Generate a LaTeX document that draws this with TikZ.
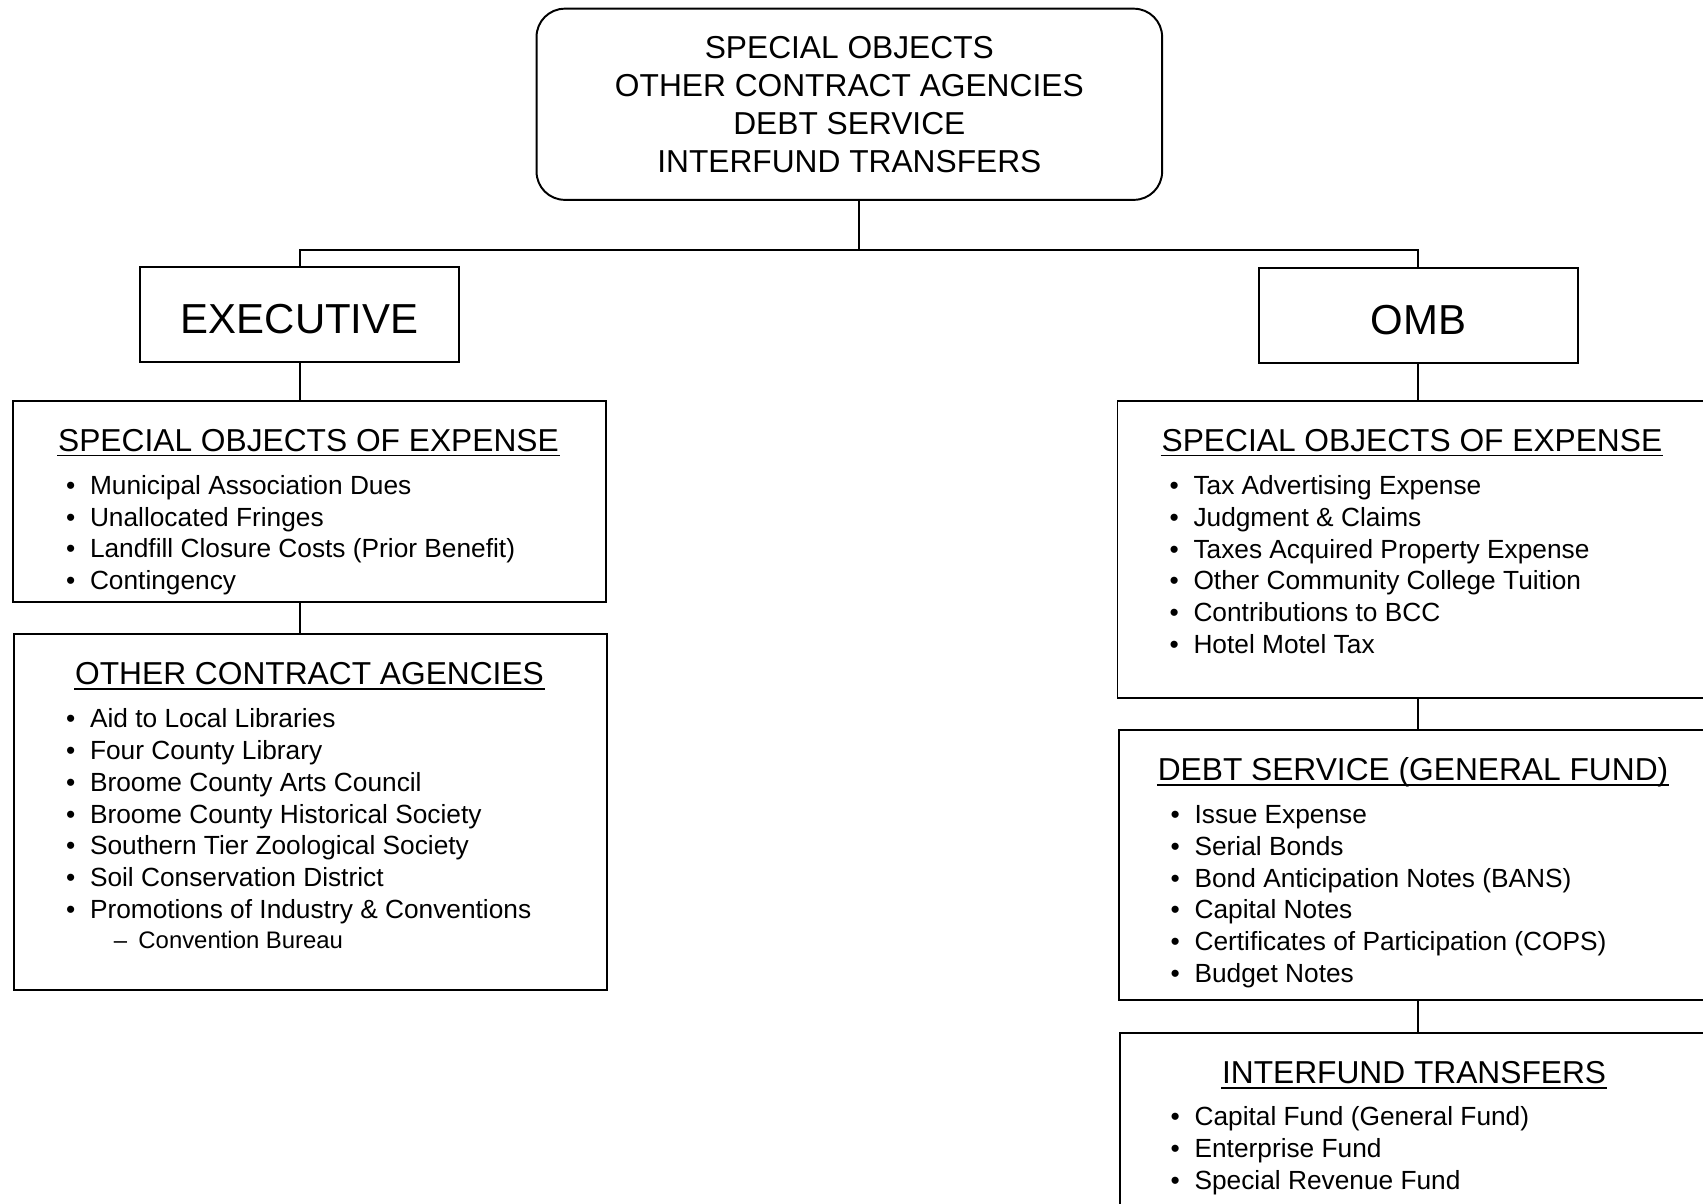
\documentclass[tikz,border=0pt]{standalone}
\usepackage{fontspec}
\setmainfont{Liberation Sans}
\usetikzlibrary{calc,positioning}

\begin{document}
\begin{tikzpicture}[x=1pt,y=-1pt,line width=1.8pt,
  box/.style={draw,rectangle,anchor=north west,minimum width=546pt,inner sep=0pt},
  unit/.style={draw,rectangle,minimum width=294pt,minimum height=87pt,text height=34.6pt,text depth=0pt,
    font=\fontsize{38.6}{44}\selectfont},
  head/.style={font=\fontsize{29.2}{35}\selectfont,inner sep=0pt,anchor=base},
  itm/.style={font=\fontsize{24.2}{29}\selectfont,inner sep=0pt,anchor=base west},
  uline/.style={line width=1.6pt}]
  \path[use as bounding box,clip] (0,0) rectangle (1568,1108);
  % top box
  \node[draw,rounded corners=26pt,minimum width=576pt,minimum height=176pt,align=center,
    font=\fontsize{29.2}{35}\selectfont] (top) at (782,96)
    {SPECIAL OBJECTS\\OTHER CONTRACT AGENCIES\\DEBT SERVICE\\INTERFUND TRANSFERS};
  \node[unit] (exec) at (276,289.5) {EXECUTIVE};
  \node[unit] (omb) at (1306,290.5) {OMB};
  \coordinate (j) at (791,230);
  \draw (j |- top.south) -- (j);
  \draw (exec.north) |- (j) -| (omb.north);
  % boxes
  \node[box,minimum height=185pt] (soeL) at (11,368) {};
  \node[box,minimum height=328pt] (ocaL) at (12,583) {};
  \node[box,minimum height=274pt] (soeR) at (1028,368) {};
  \node[box,minimum height=249pt] (dsR) at (1029,671) {};
  \node[box,minimum height=230pt] (ifR) at (1030,950) {};
  \draw (exec.south) -- (exec.south |- soeL.north);
  \draw (exec.south |- soeL.south) -- (exec.south |- ocaL.north);
  \draw (omb.south) -- (omb.south |- soeR.north);
  \draw (omb.south |- soeR.south) -- (omb.south |- dsR.north);
  \draw (omb.south |- dsR.south) -- (omb.south |- ifR.north);
  % titles
  \node[head] (soeLh) at (284,415.5) {SPECIAL OBJECTS OF EXPENSE};
  \node[head] (ocaLh) at (285,630.5) {OTHER CONTRACT AGENCIES};
  \node[head] (soeRh) at (1300,415.5) {SPECIAL OBJECTS OF EXPENSE};
  \node[head] (dsRh) at (1301,718.5) {DEBT SERVICE (GENERAL FUND)};
  \node[head] (ifRh) at (1302,997.5) {INTERFUND TRANSFERS};
  \foreach \n in {soeLh,ocaLh,soeRh,dsRh,ifRh}
    \draw[uline] ($(\n.base west)+(0,4)$) -- ($(\n.base east)+(0,4)$);
  % items
  \foreach \t [count=\i from 0] in {Municipal Association Dues,Unallocated Fringes,
      Landfill Closure Costs (Prior Benefit),Contingency}
    \node[itm] (soeL-\i) at (60,455+29.3*\i) {\makebox[22pt][l]{\textbullet}\t};
  \foreach \t [count=\i from 0] in {Aid to Local Libraries,Four County Library,Broome County Arts Council,
      Broome County Historical Society,Southern Tier Zoological Society,Soil Conservation District,
      Promotions of Industry \& Conventions}
    \node[itm] (ocaL-\i) at (60,670+29.3*\i) {\makebox[22pt][l]{\textbullet}\t};
  \node[itm,font=\fontsize{22}{26}\selectfont] (ocaL-sub) at (104,873) {\makebox[22.6pt][l]{--}Convention Bureau};
  \foreach \t [count=\i from 0] in {Tax Advertising Expense,Judgment \& Claims,Taxes Acquired Property Expense,
      Other Community College Tuition,Contributions to BCC,Hotel Motel Tax}
    \node[itm] (soeR-\i) at (1076,455.5+29.2*\i) {\makebox[22pt][l]{\textbullet}\t};
  \foreach \t [count=\i from 0] in {Issue Expense,Serial Bonds,Bond Anticipation Notes (BANS),Capital Notes,
      Certificates of Participation (COPS),Budget Notes}
    \node[itm] (dsR-\i) at (1077,758.5+29.2*\i) {\makebox[22pt][l]{\textbullet}\t};
  \foreach \t [count=\i from 0] in {Capital Fund (General Fund),Enterprise Fund,Special Revenue Fund}
    \node[itm] (ifR-\i) at (1077,1036.5+29.4*\i) {\makebox[22pt][l]{\textbullet}\t};
\end{tikzpicture}
\end{document}
